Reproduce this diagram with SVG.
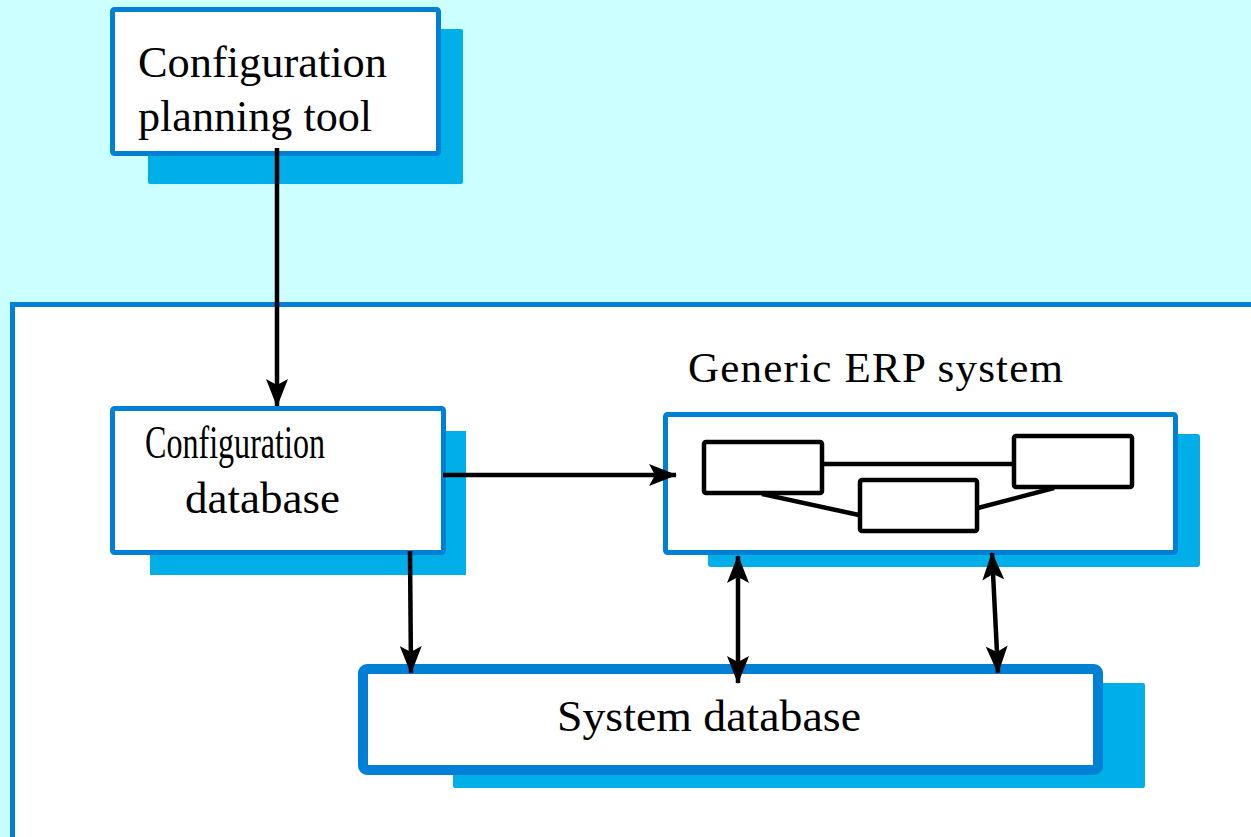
<svg xmlns="http://www.w3.org/2000/svg" width="1251" height="837" viewBox="0 0 1251 837">
<defs>
<style>
.box{fill:#FFFFFF;stroke:#0080D4;stroke-width:5}
.shadow{fill:#00AEE8}
.t{font-family:"Liberation Serif","Times New Roman",serif;fill:#000000}
.c{stroke:#000000;stroke-width:4.5;fill:none}
.inner{fill:#FFFFFF;stroke:#000000;stroke-width:4.5}
</style>
<marker id="ah" viewBox="0 0 28 22" refX="27" refY="11" markerWidth="28" markerHeight="22" markerUnits="userSpaceOnUse" orient="auto-start-reverse">
<path d="M0,0 L28,11 L0,22 L6,11 Z" fill="#000000"/>
</marker>
</defs>
<rect x="0" y="0" width="1251" height="837" fill="#CCFFFF"/>
<rect id="panel" x="12.5" y="304.5" width="1250" height="540" fill="#FFFFFF" stroke="#0080D4" stroke-width="5"/>

<g id="planning-tool">
<rect class="shadow" x="148" y="29" width="315" height="155" rx="2"/>
<rect class="box" x="112.5" y="9.5" width="326" height="144" rx="2"/>
<text class="t" x="138" y="77" font-size="45" textLength="249" lengthAdjust="spacingAndGlyphs">Configuration</text>
<text class="t" x="138" y="131" font-size="45" textLength="234" lengthAdjust="spacingAndGlyphs">planning tool</text>
</g>

<g id="config-db">
<rect class="shadow" x="150" y="431" width="316" height="144"/>
<rect class="box" x="112.5" y="408.5" width="331" height="144" rx="2"/>
<text class="t" x="145" y="458" font-size="46" textLength="180" lengthAdjust="spacingAndGlyphs">Configuration</text>
<text class="t" x="185" y="513" font-size="45" textLength="155" lengthAdjust="spacing">database</text>
</g>

<g id="erp">
<text class="t" x="688" y="382" font-size="43" textLength="375" lengthAdjust="spacing">Generic ERP system</text>
<rect class="shadow" x="708" y="434" width="492" height="133" rx="3"/>
<rect class="box" x="665.5" y="414.5" width="510" height="138" rx="2"/>
<g id="erp-modules">
<line class="c" x1="823" y1="464" x2="1015" y2="464"/>
<line class="c" x1="762" y1="494" x2="859" y2="515"/>
<line class="c" x1="978" y1="508" x2="1054" y2="488"/>
<rect id="module-a" class="inner" x="704" y="442" width="118" height="51" rx="2"/>
<rect id="module-b" class="inner" x="1014" y="436" width="118" height="51" rx="2"/>
<rect id="module-c" class="inner" x="860" y="480" width="117" height="51" rx="2"/>
</g>
</g>

<g id="system-db">
<rect class="shadow" x="453" y="683" width="692" height="105" rx="2"/>
<rect x="363" y="669" width="735" height="101" rx="4" fill="#FFFFFF" stroke="#0080D4" stroke-width="10"/>
<text class="t" x="557" y="731" font-size="45" textLength="304" lengthAdjust="spacingAndGlyphs">System database</text>
</g>

<g id="connectors">
<line class="c" x1="277" y1="148" x2="277" y2="406" marker-end="url(#ah)"/>
<line class="c" x1="443" y1="475" x2="676" y2="475" marker-end="url(#ah)"/>
<line class="c" x1="410" y1="551" x2="411" y2="673" marker-end="url(#ah)"/>
<line class="c" x1="738" y1="556" x2="738" y2="683" marker-start="url(#ah)" marker-end="url(#ah)"/>
<line class="c" x1="992" y1="553" x2="998" y2="673" marker-start="url(#ah)" marker-end="url(#ah)"/>
</g>
</svg>
